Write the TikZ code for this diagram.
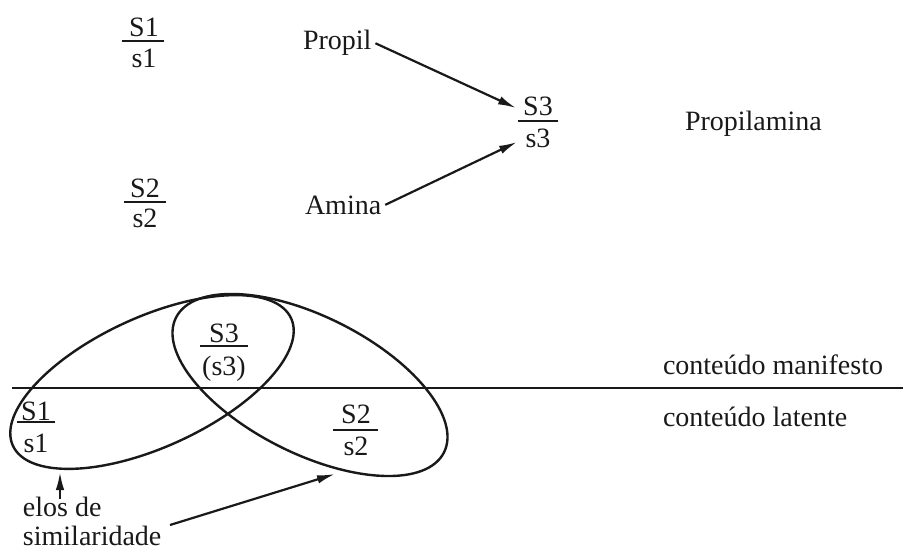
\documentclass[tikz,border=0pt]{standalone}
\usepackage{fontspec}
\setmainfont{Liberation Serif}
\usetikzlibrary{arrows.meta,shapes.geometric}
\begin{document}
\begin{tikzpicture}[x=1pt,y=-1pt,
  every node/.style={font=\fontsize{28}{32}\selectfont, inner sep=0pt, outer sep=0pt, text=black!90},
  lbl/.style={anchor=base west},
  fr/.style={anchor=base},
  bar/.style={line width=2.2pt, black!90},
  arr/.style={line width=2.2pt, black!90, -{Latex[length=18pt,width=8.5pt]}},
  loopA/.style={draw=black!90, line width=2.4pt, ellipse, minimum width=306pt, minimum height=130pt, rotate=24.6},
  loopB/.style={draw=black!90, line width=2.4pt, ellipse, minimum width=300pt, minimum height=137pt, rotate=-26.7},
  sep/.style={line width=2.6pt, black!90}]
\useasboundingbox (0,0) rectangle (903,551);

% upper part
\node[fr] (s1n) at (144,37) {S1};
\node[fr] (s1d) at (144,67) {s1};
\draw[bar] (122,41) -- (164,41);
\node[fr] (s2n) at (145,197) {S2};
\node[fr] (s2d) at (145,227) {s2};
\draw[bar] (124,202) -- (166,202);
\node[fr] (s3n) at (538,115) {S3};
\node[fr] (s3d) at (538,147) {s3};
\draw[bar] (518,121) -- (558,121);

\node[lbl] (propil) at (303,50) {Propil};
\node[lbl] (amina) at (305,214) {Amina};
\node[lbl] (propilamina) at (685,130) {Propilamina};

\coordinate (tipP) at (516,108);
\coordinate (tipA) at (517,142);
\draw[arr] ([xshift=4pt]propil.east) -- (tipP);
\draw[arr] ([xshift=4pt]amina.east) -- (tipA);

% lower part
\node[loopA] (ellA) at (152,382) {};
\node[loopB] (ellB) at (310,385) {};
\coordinate (sepL) at (12,388);
\coordinate (sepR) at (903,388);
\draw[sep] (sepL) -- (sepR);

\node[fr] (b3n) at (224,342) {S3};
\node[fr] (b3d) at (224,375) {(s3)};
\draw[bar] (200,346) -- (248,346);
\node[fr] (b1n) at (36,420) {S1};
\node[fr] (b1d) at (36,452) {s1};
\draw[bar] (17,422) -- (55,422);
\node[fr] (b2n) at (356,423) {S2};
\node[fr] (b2d) at (356,455) {s2};
\draw[bar] (333,430) -- (378,430);

\node[lbl] (manif) at (663,374) {conteúdo manifesto};
\node[lbl] (latent) at (663,426) {conteúdo latente};
\node[lbl] (elos) at (23,516) {elos de};
\node[lbl] (simil) at (23,545) {similaridade};

\coordinate (elosS) at (60,499);
\coordinate (elosT) at (60,472);
\coordinate (simS) at (170,525);
\coordinate (simT) at (335,474);
\draw[arr] (elosS) -- (elosT);
\draw[arr] (simS) -- (simT);
\end{tikzpicture}
\end{document}
